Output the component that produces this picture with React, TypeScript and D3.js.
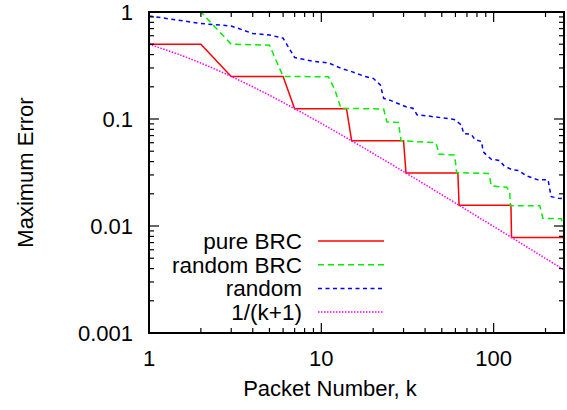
import React from "react";
import * as d3 from "d3";

const W = 567;
const H = 410;

const xTickLabels = ["1", "10", "100"];
const xMajor = [1, 10, 100];
const yMajor = [0.001, 0.01, 0.1, 1];
const yTickLabels = ["0.001", "0.01", "0.1", "1"];

const pureK = [1, 2, 3, 6, 7, 14, 15, 30, 31, 62, 63, 126, 127, 256];
const pureV = [0.5, 0.5, 0.25, 0.25, 0.125, 0.125, 0.0625, 0.0625, 0.03125, 0.03125, 0.015625, 0.015625, 0.0078125, 0.0078125];

const randBrcK = [1, 2, 3, 5, 6, 11, 12, 13, 23, 24, 28, 29, 46, 47, 48, 59, 60, 61, 93, 95, 97, 119, 124, 125, 185, 189, 193, 247, 256];
const randBrcV = [1, 1, 0.5, 0.49, 0.25, 0.248, 0.186, 0.126, 0.124, 0.094, 0.093, 0.0627, 0.06, 0.055, 0.047, 0.046, 0.04, 0.0315, 0.031, 0.028, 0.0237, 0.023, 0.0209, 0.0155, 0.0155, 0.0136, 0.0118, 0.0117, 0.0093];

const randK = [1, 2, 3, 4, 5, 6, 7, 8, 9, 11, 13, 15, 18, 20, 22, 23, 25, 31, 34, 36, 41, 59, 65, 67, 74, 78, 85, 87, 91, 97, 108, 115, 128, 140, 155, 181, 207, 211, 216, 237, 256];
const randV = [0.92, 0.78, 0.74, 0.63, 0.61, 0.57, 0.375, 0.36, 0.345, 0.335, 0.298, 0.277, 0.249, 0.24, 0.208, 0.156, 0.15, 0.13, 0.126, 0.109, 0.107, 0.099, 0.088, 0.073, 0.072, 0.064, 0.0616, 0.0494, 0.046, 0.042, 0.041, 0.0365, 0.0335, 0.033, 0.0294, 0.027, 0.027, 0.0225, 0.0188, 0.0182, 0.018];

const invK = [1, 1.5, 2, 2.5, 3, 4, 5, 6, 7, 8, 10, 12, 15, 20, 25, 31, 40, 50, 63, 80, 100, 127, 160, 200, 256];
const invV = [0.5, 0.4, 0.3333, 0.2857, 0.25, 0.2, 0.1667, 0.1429, 0.125, 0.1111, 0.0909, 0.0769, 0.0625, 0.0476, 0.0385, 0.03125, 0.0244, 0.0196, 0.015625, 0.0123, 0.0099, 0.0078125, 0.00621, 0.004975, 0.003891];

const legendNames = ["pure BRC", "random BRC", "random", "1/(k+1)"];

const L = 149, R = 564, T = 12, B = 333;
const FONT = "'Liberation Sans', Arial, Helvetica, sans-serif";

export default function App() {
  const x = d3.scaleLog().domain([1, 256]).range([L, R]);
  const y = d3.scaleLog().domain([0.001, 1]).range([B, T]);
  const line = (ks: number[], vs: number[]) =>
    d3.line<number>().x((_, i) => x(ks[i])).y((_, i) => y(vs[i]))(ks) || "";

  const xMinor: number[] = [];
  [1, 10, 100].forEach((d) => {
    for (let m = 2; m <= 9; m++) if (d * m <= 256) xMinor.push(d * m);
  });
  const yMinor: number[] = [];
  [0.001, 0.01, 0.1].forEach((d) => {
    for (let m = 2; m <= 9; m++) yMinor.push(d * m);
  });

  const series = [
    { k: pureK, v: pureV, color: "#ff0000", dash: "none", w: 1.5 },
    { k: randBrcK, v: randBrcV, color: "#00ee00", dash: "6,4", w: 1.5 },
    { k: randK, v: randV, color: "#0000ff", dash: "4,3.5", w: 1.5 },
    { k: invK, v: invV, color: "#ff00ff", dash: "1.5,1.5", w: 1.5 },
  ];

  const MAJ = 10, MIN = 5;

  return (
    <svg width={W} height={H} style={{ display: "block", position: "absolute", left: 0, top: 0 }} fontFamily={FONT}>
      <rect width={W} height={H} fill="#fff" />
      <defs>
        <clipPath id="plot">
          <rect x={L} y={T} width={R - L} height={B - T} />
        </clipPath>
      </defs>
      <g clipPath="url(#plot)">
        {series.map((s, i) => (
          <path key={i} d={line(s.k, s.v)} fill="none" stroke={s.color} strokeWidth={s.w} strokeDasharray={s.dash} />
        ))}
      </g>
      {/* ticks */}
      <g stroke="#000" strokeWidth={1.2}>
        {xMajor.map((d) => (
          <g key={"xM" + d}>
            <line x1={x(d)} x2={x(d)} y1={B} y2={B - MAJ} />
            <line x1={x(d)} x2={x(d)} y1={T} y2={T + MAJ} />
          </g>
        ))}
        {xMinor.map((d) => (
          <g key={"xm" + d}>
            <line x1={x(d)} x2={x(d)} y1={B} y2={B - MIN} />
            <line x1={x(d)} x2={x(d)} y1={T} y2={T + MIN} />
          </g>
        ))}
        {yMajor.map((d) => (
          <g key={"yM" + d}>
            <line x1={L} x2={L + MAJ} y1={y(d)} y2={y(d)} />
            <line x1={R} x2={R - MAJ} y1={y(d)} y2={y(d)} />
          </g>
        ))}
        {yMinor.map((d) => (
          <g key={"ym" + d}>
            <line x1={L} x2={L + MIN} y1={y(d)} y2={y(d)} />
            <line x1={R} x2={R - MIN} y1={y(d)} y2={y(d)} />
          </g>
        ))}
      </g>
      <rect x={L} y={T} width={R - L} height={B - T} fill="none" stroke="#000" strokeWidth={2} />
      {/* tick labels */}
      <g fontSize={22} fill="#000">
        {xMajor.map((d, i) => (
          <text key={"xl" + d} x={x(d)} y={366} textAnchor="middle">{xTickLabels[i]}</text>
        ))}
        {yMajor.map((d, i) => (
          <text key={"yl" + d} x={133} y={y(d) + 8} textAnchor="end">{yTickLabels[i]}</text>
        ))}
        <text x={330} y={396} textAnchor="middle">Packet Number, k</text>
        <text transform={`translate(33,172.5) rotate(-90)`} textAnchor="middle">Maximum Error</text>
      </g>
      {/* legend */}
      <g fontSize={22.5}>
        {legendNames.map((n, i) => {
          const ly = 241 + i * 23.7;
          const s = series[i];
          return (
            <g key={n}>
              <text x={302} y={ly + 8} textAnchor="end">{n}</text>
              <line x1={318} x2={384} y1={ly} y2={ly} stroke={s.color} strokeWidth={s.w} strokeDasharray={s.dash} />
            </g>
          );
        })}
      </g>
    </svg>
  );
}
